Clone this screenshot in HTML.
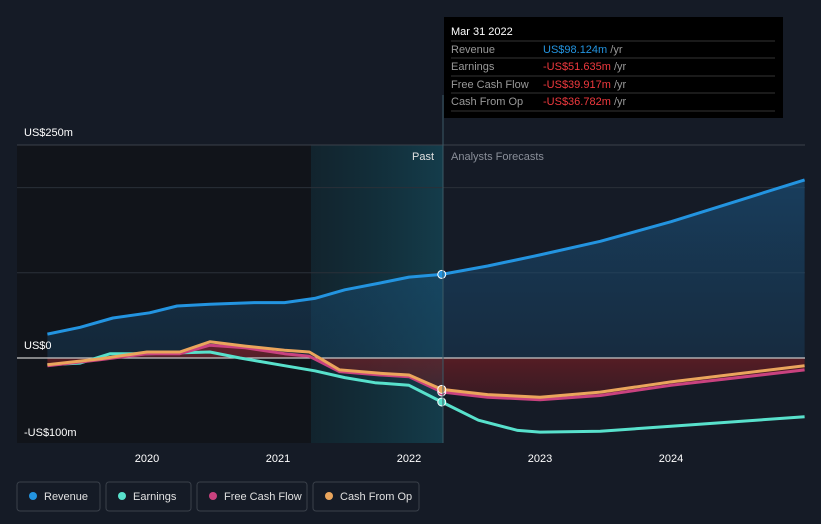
<!DOCTYPE html>
<html><head><meta charset="utf-8"><style>
body{margin:0;background:#151b26;font-family:"Liberation Sans",sans-serif;}
svg{display:block}
</style></head><body>
<svg width="821" height="524" id="c">
<defs>
<linearGradient id="tealg" x1="0" x2="1"><stop offset="0" stop-color="#0f2a33" stop-opacity="0.6"/><stop offset="1" stop-color="#14404f" stop-opacity="0.9"/></linearGradient>
<linearGradient id="revg" x1="0" y1="0" x2="0" y2="1"><stop offset="0" stop-color="#1a5a8a" stop-opacity="0.55"/><stop offset="1" stop-color="#1a4a70" stop-opacity="0.35"/></linearGradient>
<linearGradient id="negg" x1="0" y1="0" x2="0" y2="1"><stop offset="0" stop-color="#7a1f25" stop-opacity="0.75"/><stop offset="1" stop-color="#5a1a20" stop-opacity="0.5"/></linearGradient>
</defs>
<rect x="17" y="145" width="294" height="298" fill="#11141a"/>
<rect x="311" y="145" width="132" height="298" fill="url(#tealg)"/>
<g id="grid"></g>
<g id="areas"></g>
<g id="lines"></g>
<line x1="443" y1="95" x2="443" y2="443" stroke="#3a5a66" stroke-width="1"/>
<text x="434" y="160" fill="#e0e0e0" font-size="11" text-anchor="end">Past</text>
<text x="451" y="160" fill="#8a8f99" font-size="11">Analysts Forecasts</text>
<g id="yl"></g><g id="xl"></g>
<g>
<rect x="444" y="17" width="339" height="101" fill="#000"/>
<text x="451" y="35" fill="#fff" font-size="11">Mar 31 2022</text>
<line x1="451" y1="41" x2="775" y2="41" stroke="#333"/>
<text x="451" y="53" fill="#999" font-size="11">Revenue</text><text x="543" y="53" fill="#2394e0" font-size="11">US$98.124m <tspan fill="#999">/yr</tspan></text>
<line x1="451" y1="58" x2="775" y2="58" stroke="#333"/>
<text x="451" y="70" fill="#999" font-size="11">Earnings</text><text x="543" y="70" fill="#f0393e" font-size="11">-US$51.635m <tspan fill="#999">/yr</tspan></text>
<line x1="451" y1="76" x2="775" y2="76" stroke="#333"/>
<text x="451" y="88" fill="#999" font-size="11">Free Cash Flow</text><text x="543" y="88" fill="#f0393e" font-size="11">-US$39.917m <tspan fill="#999">/yr</tspan></text>
<line x1="451" y1="93" x2="775" y2="93" stroke="#333"/>
<text x="451" y="105" fill="#999" font-size="11">Cash From Op</text><text x="543" y="105" fill="#f0393e" font-size="11">-US$36.782m <tspan fill="#999">/yr</tspan></text>
<line x1="451" y1="111" x2="775" y2="111" stroke="#333"/>
</g>
<g id="legend"></g>
</svg>
<script>
const revT=[2019.24,2019.49,2019.74,2020.02,2020.23,2020.48,2020.82,2021.05,2021.28,2021.51,2021.78,2022.0,2022.25,2022.6,2023.0,2023.46,2024.0,2024.52,2025.02];
const revV=[28,36,47,53,61,63,65,65,70,80,88,95,98.1,108,121,137,160,185,209];
const earnT=[2019.24,2019.49,2019.72,2020.0,2020.48,2020.71,2021.05,2021.28,2021.51,2021.74,2022.0,2022.25,2022.53,2022.83,2023.0,2023.46,2024.0,2025.02];
const earnV=[-8,-6,5,5,7,0,-9,-15,-23,-29,-32,-51.6,-73,-85,-87,-86,-80,-69];
const cfT=[2019.24,2019.64,2020.0,2020.25,2020.48,2020.75,2021.05,2021.24,2021.47,2021.78,2022.0,2022.25,2022.6,2023.0,2023.46,2024.0,2025.02];
const fcfV=[-9,-2,5,5,15,12,5,2,-16,-20,-22,-39.9,-46,-49,-44,-32,-14];
const cfoV=[-8,-1,7,7,19,14,9,7,-14,-18,-20,-36.8,-43,-46,-40,-28,-9];
const yTicks=[250,0,-100];const yTickLabels=["US$250m","US$0","-US$100m"];
const xTicks=[2020,2021,2022,2023,2024];
const X=t=>147+(t-2020)*131, Y=v=>358-v*0.852;
const NS="http://www.w3.org/2000/svg";
function mk(tag,attrs,parent){const e=document.createElementNS(NS,tag);for(const k in attrs)e.setAttribute(k,attrs[k]);document.getElementById(parent).appendChild(e);return e;}
function path(T,V){return T.map((t,i)=>(i?"L":"M")+X(t).toFixed(1)+","+Y(V[i]).toFixed(1)).join("");}
[200,100].forEach(v=>{const g=mk("line",{x1:17,x2:805,y1:Y(v),y2:Y(v),stroke:"#2a3039","stroke-width":1},"grid");

});
const topLine=mk("line",{x1:17,x2:805,y1:Y(250),y2:Y(250),stroke:"#3a404a"},"grid");


const ra=mk("path",{d:path(revT,revV)+"L"+X(revT[revT.length-1])+","+Y(0)+"L"+X(revT[0])+","+Y(0)+"Z",fill:"url(#revg)"},"areas");


const na=mk("path",{d:path(cfT,fcfV)+"L"+X(cfT[cfT.length-1])+","+Y(0)+"L"+X(cfT[0])+","+Y(0)+"Z",fill:"url(#negg)"},"areas");


const z=mk("line",{x1:17,x2:805,y1:Y(0),y2:Y(0),stroke:"#c8c8c8","stroke-width":1.2},"areas");


const series=[["earnings-line",earnT,earnV,"#58e1cc"],["fcf-line",cfT,fcfV,"#c9427f"],["cfo-line",cfT,cfoV,"#eaa55c"],["revenue-line",revT,revV,"#2394e0"]];
series.forEach(s=>{const p=mk("path",{d:path(s[1],s[2]),fill:"none",stroke:s[3],"stroke-width":3,"stroke-linejoin":"round"},"lines");


const i=s[1].indexOf(2022.25);const c=mk("circle",{cx:X(2022.25),cy:Y(s[2][i]),r:4,fill:s[3],stroke:"#fff","stroke-width":1},"lines");

});
yTicks.forEach((v,i)=>{const t=mk("text",{x:24,y:Y(v)-9+(v<0?2:0),fill:"#fff","font-size":11},"yl");t.textContent=yTickLabels[i];

});
xTicks.forEach(v=>{const t=mk("text",{x:X(v),y:462,fill:"#fff","font-size":11,"text-anchor":"middle"},"xl");t.textContent=v;

});
const leg=[["Revenue","#2394e0",17,83],["Earnings","#58e1cc",106,85],["Free Cash Flow","#c9427f",197,110],["Cash From Op","#eaa55c",313,106]];
leg.forEach(l=>{const g=mk("g",{},"legend");


const r=document.createElementNS(NS,"rect");[["x",l[2]],["y",482],["width",l[3]],["height",29],["rx",3],["fill","none"],["stroke","#3a404a"]].forEach(a=>r.setAttribute(a[0],a[1]));g.appendChild(r);
const c=document.createElementNS(NS,"circle");[["cx",l[2]+16],["cy",496],["r",4],["fill",l[1]]].forEach(a=>c.setAttribute(a[0],a[1]));g.appendChild(c);
const t=document.createElementNS(NS,"text");[["x",l[2]+27],["y",500],["fill","#e0e0e0"],["font-size",11]].forEach(a=>t.setAttribute(a[0],a[1]));t.textContent=l[0];g.appendChild(t);});
</script>
</body></html>
